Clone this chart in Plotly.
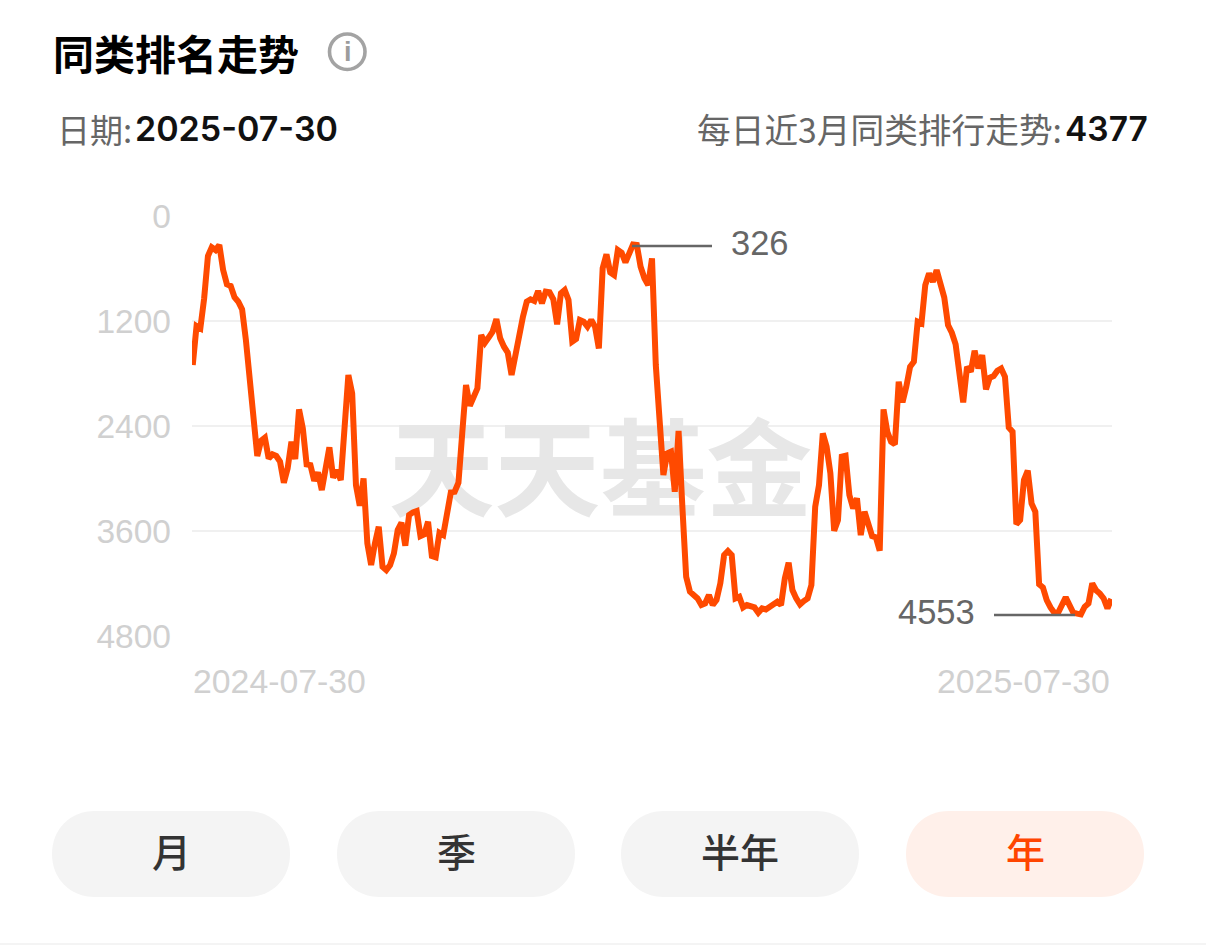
import plotly.graph_objects as go

W, H = 1206, 945

title = "同类排名走势"
date_label = "日期:"
date_value = "2025-07-30"
rank_label = "每日近3月同类排行走势:"
rank_value = "4377"
watermark = "天天基金"
y_ticks = [0, 1200, 2400, 3600, 4800]
x_labels = ["2024-07-30", "2025-07-30"]
best_rank = 326
worst_rank = 4553
buttons = ["月", "季", "半年", "年"]

rank = [
    1703, 1257, 1284, 941, 457, 358, 389, 331, 617, 781, 800, 929, 979, 1067, 1417, 1875, 2179, 2743, 2568, 2534,
    2770, 2724, 2743, 2808, 3048, 2884, 2579, 2778, 2210, 2427, 2839, 2846, 3025, 2930, 3132, 2884, 2644, 2991, 2903, 3018,
    2294, 1817, 2027, 3075, 3311, 2998, 3741, 3989, 3741, 3551, 4008, 4046, 3989, 3856, 3589, 3505, 3768, 3417, 3387, 3372,
    3658, 3639, 3494, 3886, 3901, 3620, 3646, 3436, 3158, 3151, 3048, 2484, 1932, 2168, 2065, 1970, 1360, 1448, 1387, 1322,
    1177, 1398, 1494, 1562, 1817, 1570, 1303, 1151, 979, 952, 971, 857, 998, 865, 872, 952, 1238, 884, 846, 960,
    1436, 1406, 1189, 1208, 1265, 1189, 1265, 1513, 598, 438, 644, 674, 389, 419, 530, 427, 326, 331, 579, 712,
    789, 484, 1703, 2332, 2960, 2713, 2694, 3151, 2457, 3322, 4122, 4294, 4343, 4370, 4446, 4427, 4332, 4446, 4389, 4198,
    3875, 3829, 3875, 4370, 4351, 4473, 4446, 4458, 4473, 4534, 4484, 4496, 4465, 4420, 4408, 4446, 4141, 3962, 4275, 4370,
    4439, 4400, 4370, 4218, 3323, 3075, 2485, 2637, 2942, 3597, 3475, 2751, 2740, 3189, 3342, 3227, 3647, 3380, 3513, 3658,
    3673, 3826, 2210, 2465, 2580, 2610, 1894, 2130, 1951, 1723, 1665, 1208, 1227, 789, 656, 751, 618, 770, 930, 1246,
    1334, 1467, 1856, 2130, 1723, 1780, 1540, 1742, 1589, 1982, 1848, 1829, 1768, 1742, 1837, 2416, 2465, 3521, 3475, 3018,
    2911, 3285, 3380, 4210, 4245, 4390, 4473, 4534, 4534, 4450, 4359, 4447, 4534, 4545, 4553, 4466, 4428, 4199, 4277, 4315,
    4371, 4485, 4377,
]
days = list(range(len(rank)))


def px(x):
    return x / W


def py(y):
    return 1 - y / H


def pill(x0, y0, x1, y1, color):
    r = (y1 - y0) / 2
    k = r * 0.42
    p = (
        f"M {px(x0 + r)} {py(y0)} L {px(x1 - r)} {py(y0)} "
        f"C {px(x1 - k)} {py(y0)} {px(x1)} {py(y0 + k)} {px(x1)} {py(y0 + r)} "
        f"C {px(x1)} {py(y1 - k)} {px(x1 - k)} {py(y1)} {px(x1 - r)} {py(y1)} "
        f"L {px(x0 + r)} {py(y1)} "
        f"C {px(x0 + k)} {py(y1)} {px(x0)} {py(y1 - k)} {px(x0)} {py(y0 + r)} "
        f"C {px(x0)} {py(y0 + k)} {px(x0 + k)} {py(y0)} {px(x0 + r)} {py(y0)} Z"
    )
    return dict(type="path", xref="paper", yref="paper", path=p, fillcolor=color, line_width=0, layer="below")


CJK = "Noto Sans CJK SC"
fig = go.Figure()

# watermark sits under the line, so it is a text trace drawn first
fig.add_trace(go.Scatter(
    x=[(len(rank) - 1) * 0.4438], y=[3030], mode="text", text=[watermark],
    textfont=dict(family=CJK, size=106, color="#e7e7e7", weight="bold"),
    textposition="middle center", hoverinfo="skip", showlegend=False,
))
fig.add_trace(go.Scatter(
    x=days, y=rank, mode="lines", line=dict(color="#ff4a00", width=6, shape="linear"),
    cliponaxis=False, showlegend=False, hoverinfo="skip",
))


def text(x, y, s, size, color, anchor="left", family=CJK, weight="normal"):
    return dict(xref="paper", yref="paper", x=px(x), y=py(y), text=s, showarrow=False,
                xanchor=anchor, yanchor="middle", xshift=0, borderpad=0,
                font=dict(family=family, size=size, color=color, weight=weight))


annotations = [
    text(52, 52, title, 41, "#000000", weight="bold"),
    text(347.5, 52, "i", 27, "#9c9c9c", "center", "Liberation Sans", "bold"),
    text(56, 129, date_label, 33, "#666666"),
    text(134, 129, date_value, 34, "#111111", family="Inter", weight=600),
    text(1063, 129, rank_label, 33.7, "#666666", "right"),
    text(1149, 129, rank_value, 33.5, "#111111", "right", family="Inter", weight=600),
    text(730, 243, str(best_rank), 34.5, "#666666", family="Liberation Sans"),
    text(976, 612, str(worst_rank), 34.5, "#666666", "right", "Liberation Sans"),
    text(192, 681, x_labels[0], 33.8, "#d0d0d0", family="Liberation Sans"),
    text(1111, 681, x_labels[1], 33.8, "#d0d0d0", "right", "Liberation Sans"),
]

pills = [(52, 290), (337, 575), (621, 859), (906, 1144)]
shapes = [
    dict(type="rect", xref="paper", yref="paper", x0=0, x1=1, y0=py(945), y1=py(943),
         fillcolor="#f4f4f4", line_width=0, layer="below"),
    dict(type="circle", xref="paper", yref="paper", x0=px(329.5), x1=px(365), y0=py(69.5), y1=py(34),
         line=dict(color="#a3a3a3", width=3.6)),
    dict(type="line", xref="paper", yref="paper", x0=px(632), x1=px(712), y0=py(246), y1=py(246),
         line=dict(color="#666666", width=2.6)),
    dict(type="line", xref="paper", yref="paper", x0=px(994), x1=px(1075), y0=py(615), y1=py(615),
         line=dict(color="#666666", width=2.6)),
]
for i, (label, (a, b)) in enumerate(zip(buttons, pills)):
    active = i == len(buttons) - 1
    shapes.append(pill(a, 811, b, 897, "#fff0ea" if active else "#f4f4f4"))
    annotations.append(text((a + b) / 2, 850, label, 39, "#ff4500" if active else "#333333", "center", weight=500))

fig.update_layout(
    width=W, height=H, autosize=False,
    margin=dict(l=0, r=0, t=0, b=0, autoexpand=False),
    paper_bgcolor="#ffffff", plot_bgcolor="#ffffff",
    showlegend=False, annotations=annotations, shapes=shapes,
    xaxis=dict(domain=[px(192), px(1112)], range=[-0.2, len(rank) - 1 + 0.2], visible=False, automargin=False),
    yaxis=dict(domain=[py(636), py(216)], range=[4800, 0], tickmode="array", tickvals=y_ticks,
               ticktext=[str(v) for v in y_ticks], showgrid=True, gridcolor="#f0f0f0", gridwidth=2,
               zeroline=False, showline=False, ticks="", ticklabelstandoff=20, automargin=False,
               tickfont=dict(family="Liberation Sans", size=33.5, color="#d0d0d0")),
)

fig.write_html("out.html", config=dict(displayModeBar=False),
               post_script="document.body.style.margin='0';document.body.style.overflow='hidden';")
